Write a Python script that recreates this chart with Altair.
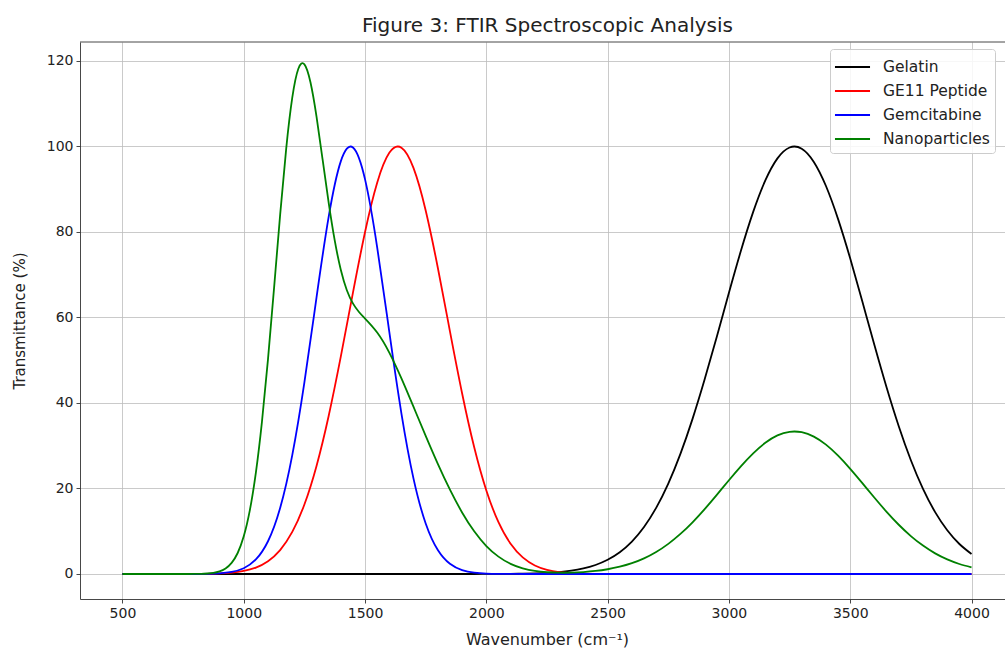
import altair as alt
import pandas as pd

# ---- data ----
wn = list(range(500, 4001, 50))  # common wavenumber grid (cm^-1)

gelatin = [0, 0, 0, 0, 0, 0, 0, 0, 0, 0,
           0, 0, 0, 0, 0, 0, 0, 0, 0, 0,
           0, 0, 0, 0, 0, 0, 0, 0, 0, 0,
           0.01, 0.02, 0.04, 0.07, 0.14, 0.25, 0.45, 0.77, 1.29, 2.10,
           3.32, 5.09, 7.58, 10.99, 15.46, 21.15, 28.11, 36.29, 45.54, 55.52,
           65.78, 75.72, 84.70, 92.06, 97.22, 99.77, 99.48, 96.39, 90.75, 83.01,
           73.79, 63.74, 53.49, 43.62, 34.57, 26.61, 19.91, 14.47, 10.23, 7.02,
           4.68]

ge11 = [0, 0, 0, 0, 0, 0, 0.01, 0.05, 0.13, 0.32,
        0.72, 1.51, 3.00, 5.60, 9.84, 16.26, 25.28, 36.96, 50.83, 65.75,
        79.99, 91.53, 98.51, 99.72, 94.95, 85.04, 71.63, 56.76, 42.29, 29.64,
        19.54, 12.12, 7.07, 3.88, 2.00, 0.97, 0.44, 0.19, 0.08, 0.03,
        0.01, 0, 0, 0, 0, 0, 0, 0, 0, 0,
        0, 0, 0, 0, 0, 0, 0, 0, 0, 0,
        0, 0, 0, 0, 0, 0, 0, 0, 0, 0,
        0]

gemcitabine = [0, 0, 0, 0, 0, 0, 0, 0.04, 0.15, 0.48,
               1.35, 3.40, 7.66, 15.43, 27.80, 44.83, 64.69, 83.53, 96.51, 99.78,
               92.31, 76.42, 56.61, 37.53, 22.26, 11.82, 5.61, 2.39, 0.91, 0.31,
               0.09, 0.03, 0.01, 0, 0, 0, 0, 0, 0, 0,
               0, 0, 0, 0, 0, 0, 0, 0, 0, 0,
               0, 0, 0, 0, 0, 0, 0, 0, 0, 0,
               0, 0, 0, 0, 0, 0, 0, 0, 0, 0,
               0]

nano_wn = [500, 550, 600, 650, 700, 750, 800,
           825, 850, 875, 900, 925, 950, 975, 1000,
           1025, 1050, 1075, 1100, 1125, 1150, 1175, 1200, 1225, 1250,
           1275, 1300, 1325, 1350, 1375, 1400, 1425, 1450, 1475,
           1500, 1550, 1600, 1650, 1700, 1750, 1800, 1850, 1900, 1950,
           2000, 2050, 2100, 2150, 2200, 2250, 2300, 2350, 2400, 2450,
           2500, 2550, 2600, 2650, 2700, 2750, 2800, 2850, 2900, 2950,
           3000, 3050, 3100, 3150, 3200, 3250, 3300, 3350, 3400, 3450,
           3500, 3550, 3600, 3650, 3700, 3750, 3800, 3850, 3900, 3950,
           4000]
nanoparticles = [0, 0, 0, 0, 0, 0, 0.01,
                 0.03, 0.12, 0.27, 0.62, 1.29, 2.60, 4.91, 8.81,
                 14.88, 23.70, 35.56, 50.26, 66.91, 84.01, 99.51, 111.41, 118.18, 119.22,
                 115.03, 106.99, 96.97, 86.87, 78.03, 71.17, 66.38, 63.30, 61.28,
                 59.76, 56.50, 51.80, 45.76, 39.07, 32.29, 25.75, 19.72, 14.40, 9.98,
                 6.54, 4.06, 2.37, 1.32, 0.71, 0.41, 0.30, 0.32, 0.46, 0.71,
                 1.11, 1.70, 2.53, 3.66, 5.15, 7.05, 9.37, 12.10, 15.18, 18.51,
                 21.93, 25.24, 28.23, 30.69, 32.41, 33.26, 33.16, 32.13, 30.25, 27.67,
                 24.60, 21.25, 17.83, 14.54, 11.52, 8.87, 6.64, 4.82, 3.41, 2.34,
                 1.56]

series_names = ["Gelatin", "GE11 Peptide", "Gemcitabine", "Nanoparticles"]
series_colors = ["#000000", "#ff0000", "#0000ff", "#008000"]
x_ticks = [500, 1000, 1500, 2000, 2500, 3000, 3500, 4000]
y_ticks = [0, 20, 40, 60, 80, 100, 120]

# ---- long-form table ----
rows = []
for name, xs, ys in [("Gelatin", wn, gelatin),
                     ("GE11 Peptide", wn, ge11),
                     ("Gemcitabine", wn, gemcitabine),
                     ("Nanoparticles", nano_wn, nanoparticles)]:
    assert len(xs) == len(ys), name
    for xv, yv in zip(xs, ys):
        rows.append({"wn": xv, "value": yv, "series": name})
df = pd.DataFrame(rows)

W, H = 925, 557
FONT = "DejaVu Sans"
TXT = "#222222"

lines = alt.Chart(df).mark_line(strokeWidth=1.8, interpolate="natural", clip=True).encode(
    x=alt.X("wn:Q",
            scale=alt.Scale(domain=[325, 4138], nice=False, zero=False),
            axis=alt.Axis(values=x_ticks, title="Wavenumber (cm⁻¹)", format="d",
                          titleX=467, titleY=45, titleBaseline="alphabetic",
                          titleAlign="center", titleFontSize=16)),
    y=alt.Y("value:Q",
            scale=alt.Scale(domain=[-5.85, 124.44], nice=False, zero=False),
            axis=alt.Axis(values=y_ticks, title="Transmittance (%)",
                          titleX=-56, titleY=H / 2, titleAngle=270,
                          titleBaseline="alphabetic", titleAlign="center")),
    color=alt.Color("series:N",
                    scale=alt.Scale(domain=series_names, range=series_colors),
                    legend=alt.Legend(title=None, orient="none", legendX=750, legendY=7,
                                      padding=5, fillColor="rgba(255,255,255,0.85)",
                                      strokeColor="#cccccc", cornerRadius=3,
                                      symbolType="M-1.46,0L1.46,0", symbolSize=576,
                                      symbolStrokeWidth=2, symbolOffset=4.5,
                                      labelOffset=17.5, rowPadding=2,
                                      labelFont=FONT, labelFontSize=15.5, labelColor=TXT)),
)

top_border = alt.Chart(pd.DataFrame({"k": [0]})).mark_rule(color="#333333", strokeWidth=0.9).encode(
    x=alt.value(0), x2=alt.value(W), y=alt.value(0)
)

chart = alt.layer(lines, top_border).properties(
    width=W, height=H,
    title=alt.TitleParams("Figure 3: FTIR Spectroscopic Analysis", font=FONT, fontSize=20,
                          fontWeight="normal", color=TXT, anchor="middle", offset=6, dx=5),
    padding={"left": 80, "top": 42, "right": 0, "bottom": 52},
    autosize=alt.AutoSizeParams(type="none"),
).configure_view(stroke=None).configure_axis(
    domainColor="#333333", domainWidth=0.9,
    tickColor="#333333", tickWidth=0.9, tickSize=4,
    labelFont=FONT, labelFontSize=14, labelColor=TXT, labelPadding=3,
    labelFlush=False, labelOverlap=False,
    grid=True, gridColor="#bdbdbd", gridWidth=0.8,
    titleFont=FONT, titleFontSize=15, titleFontWeight="normal", titleColor=TXT,
)

chart.save("out.html", embed_options={"renderer": "svg", "actions": False})
